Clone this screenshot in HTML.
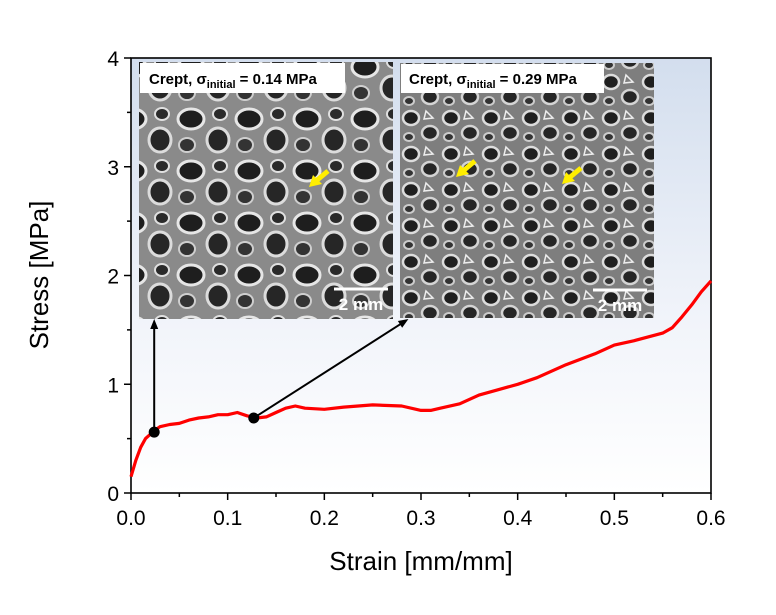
<!DOCTYPE html>
<html><head><meta charset="utf-8"><style>
html,body{margin:0;padding:0;background:#fff;}
svg{display:block;font-family:"Liberation Sans",Arial,sans-serif;}
</style></head><body>
<svg id="chart" width="776" height="615" viewBox="0 0 776 615">
<defs>
<linearGradient id="bg" x1="0" y1="0" x2="0" y2="1">
<stop offset="0" stop-color="#d3deee"/><stop offset="0.6" stop-color="#f1f4fa"/><stop offset="1" stop-color="#ffffff"/>
</linearGradient>
<pattern id="foamA" width="58" height="52" patternUnits="userSpaceOnUse">
<rect width="58" height="52" fill="#8a8a8a"/>
<ellipse cx="17" cy="15" rx="13" ry="10" fill="#1e1e1e" stroke="#e6e6e6" stroke-width="3"/>
<ellipse cx="44" cy="36" rx="11" ry="12" fill="#262626" stroke="#dcdcdc" stroke-width="3"/>
<ellipse cx="13" cy="41" rx="8" ry="7" fill="#333" stroke="#cfcfcf" stroke-width="2"/>
<ellipse cx="46" cy="10" rx="7" ry="6" fill="#2a2a2a" stroke="#e0e0e0" stroke-width="2"/>
</pattern>
<pattern id="foamB" width="40" height="36" patternUnits="userSpaceOnUse">
<rect width="40" height="36" fill="#7e7e7e"/>
<ellipse cx="11" cy="10" rx="8" ry="7" fill="#1f1f1f" stroke="#dcdcdc" stroke-width="2.5"/>
<ellipse cx="30" cy="25" rx="8" ry="7" fill="#262626" stroke="#d4d4d4" stroke-width="2.5"/>
<ellipse cx="9" cy="29" rx="5" ry="4" fill="#333" stroke="#ccc" stroke-width="2"/>
<path d="M26 3 L33 10 L24 11 Z" fill="none" stroke="#eee" stroke-width="1.5"/>
</pattern>
</defs>
<rect x="131" y="58" width="580" height="435" fill="url(#bg)"/>
<g id="insets">
<g>
<rect x="139" y="62" width="254" height="257" fill="url(#foamA)"/>
<rect x="140" y="63" width="205" height="30" fill="#fff"/>
<text x="149" y="84" font-size="15" font-weight="bold" fill="#000">Crept, σ<tspan font-size="11" dy="4">initial</tspan><tspan dy="-4"> = 0.14 MPa</tspan></text>
<line x1="334" y1="289" x2="388" y2="289" stroke="#fff" stroke-width="3"/>
<text x="361" y="310" font-size="17" font-weight="bold" fill="#fff" text-anchor="middle">2 mm</text>
<path d="M328 171 L316 181" stroke="#ffee00" stroke-width="5"/>
<polygon points="309,187 322,184 313,175" fill="#ffee00"/>
</g>
<g>
<rect x="400" y="63" width="254" height="255" fill="url(#foamB)"/>
<rect x="401" y="64" width="203" height="29" fill="#fff"/>
<text x="409" y="84" font-size="15" font-weight="bold" fill="#000">Crept, σ<tspan font-size="11" dy="4">initial</tspan><tspan dy="-4"> = 0.29 MPa</tspan></text>
<line x1="593" y1="290" x2="647" y2="290" stroke="#fff" stroke-width="3"/>
<text x="620" y="311" font-size="17" font-weight="bold" fill="#fff" text-anchor="middle">2 mm</text>
<path d="M475 161 L463 171" stroke="#ffee00" stroke-width="5"/>
<polygon points="456,177 469,174 460,165" fill="#ffee00"/>
<path d="M581 168 L569 178" stroke="#ffee00" stroke-width="5"/>
<polygon points="562,184 575,181 566,172" fill="#ffee00"/>
</g>
</g>
<g id="axes"></g>
<g id="series"></g>
<text x="48" y="275" font-size="26" text-anchor="middle" transform="rotate(-90 48 275)">Stress [MPa]</text>
<text x="421" y="570" font-size="26" text-anchor="middle">Strain [mm/mm]</text>
</svg>
<script>
const strain = [0,0.005,0.01,0.015,0.02,0.025,0.03,0.04,0.05,0.06,0.07,0.08,0.09,0.1,0.11,0.12,0.13,0.14,0.15,0.16,0.17,0.18,0.2,0.22,0.25,0.28,0.3,0.31,0.32,0.34,0.36,0.38,0.4,0.42,0.45,0.48,0.5,0.52,0.55,0.56,0.57,0.58,0.59,0.6];
const stress = [0.15,0.3,0.42,0.5,0.54,0.58,0.61,0.63,0.64,0.67,0.69,0.7,0.72,0.72,0.74,0.71,0.69,0.7,0.74,0.78,0.8,0.78,0.77,0.79,0.81,0.8,0.76,0.76,0.78,0.82,0.9,0.95,1.0,1.06,1.18,1.28,1.36,1.4,1.47,1.52,1.62,1.73,1.85,1.95];
const xTicks = ["0.0","0.1","0.2","0.3","0.4","0.5","0.6"];
const yTicks = ["0","1","2","3","4"];
const markerStrain = [0.024,0.127];
const markerStress = [0.56,0.69];
const markerTargetX = [0.024,0.287];
const markerTargetY = [1.6,1.6];

const X0=131,X1=711,Y0=493,Y1=58;
const sx=v=>X0+(v-0)/(0.6)*(X1-X0);
const sy=v=>Y0-(v-0)/4*(Y0-Y1);
const NS="http://www.w3.org/2000/svg";
function mk(tag,attrs,parent){const e=document.createElementNS(NS,tag);for(const k in attrs)e.setAttribute(k,attrs[k]);parent.appendChild(e);return e;}
const axes=document.getElementById('axes'), ser=document.getElementById('series');

const frame=mk('rect',{x:X0,y:Y1,width:X1-X0,height:Y0-Y1,fill:'none',stroke:'#000','stroke-width':1.6},axes);



xTicks.forEach((t,i)=>{
  const v=parseFloat(t), x=sx(v);
  mk('line',{x1:x,y1:Y0,x2:x,y2:Y0+7,stroke:'#000','stroke-width':1.5},axes);
  if(i<xTicks.length-1){const xm=sx(v+0.05);mk('line',{x1:xm,y1:Y0,x2:xm,y2:Y0+4,stroke:'#000','stroke-width':1.5},axes);}
  const tx=mk('text',{x:x,y:Y0+32,'font-size':21,'text-anchor':'middle'},axes);
  tx.textContent=t;
  
  
});
yTicks.forEach((t,i)=>{
  const v=parseFloat(t), y=sy(v);
  mk('line',{x1:X0-7,y1:y,x2:X0,y2:y,stroke:'#000','stroke-width':1.5},axes);
  if(i<yTicks.length-1){const ym=sy(v+0.5);mk('line',{x1:X0-4,y1:ym,x2:X0,y2:ym,stroke:'#000','stroke-width':1.5},axes);}
  const tx=mk('text',{x:X0-12,y:y+8,'font-size':21,'text-anchor':'end'},axes);
  tx.textContent=t;
  
  
});

let d='';
strain.forEach((s,i)=>{d+=(i?'L':'M')+sx(s).toFixed(1)+' '+sy(stress[i]).toFixed(1)+' ';});
const line=mk('path',{d:d,fill:'none',stroke:'#ff0000','stroke-width':3.2,'stroke-linejoin':'round'},ser);



markerStrain.forEach((s,i)=>{
  const ax=sx(markerTargetX[i]), ay=sy(markerTargetY[i]);
  const dx=ax-sx(s), dy=ay-sy(markerStress[i]); const L=Math.hypot(dx,dy); const ux=dx/L, uy=dy/L;
  const ar=mk('line',{x1:sx(s),y1:sy(markerStress[i]),x2:ax-ux*8,y2:ay-uy*8,stroke:'#000','stroke-width':2},ser);
  
  
  const hd=mk('polygon',{points:`${ax},${ay} ${ax-ux*10-uy*4},${ay-uy*10+ux*4} ${ax-ux*10+uy*4},${ay-uy*10-ux*4}`,fill:'#000'},ser);
  
  
  const c=mk('circle',{cx:sx(s),cy:sy(markerStress[i]),r:5.5,fill:'#000'},ser);
  
  
});
</script>
</body></html>
